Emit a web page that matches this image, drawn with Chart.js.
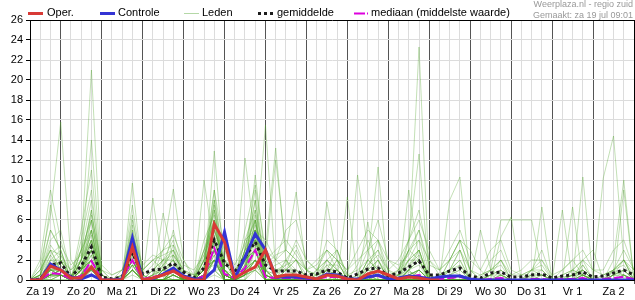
<!DOCTYPE html>
<html>
<head>
<meta charset="utf-8">
<script src="https://cdn.jsdelivr.net/npm/chart.js@4.4.1/dist/chart.umd.min.js"></script>
<style>
  html, body { margin: 0; padding: 0; background: #fff; }
  #wrap { width: 635px; height: 300px; }
</style>
</head>
<body>
<div id="wrap"><canvas id="chart" width="635" height="300"></canvas></div>
<script>
// neerslag per 6 uur (mm), stap 0 = za 19 jul 06:00, laatste stap = zo 3 aug 00:00
var dayLabels = ['Za 19', 'Zo 20', 'Ma 21', 'Di 22', 'Wo 23', 'Do 24', 'Vr 25', 'Za 26',
                 'Zo 27', 'Ma 28', 'Di 29', 'Wo 30', 'Do 31', 'Vr 1', 'Za 2'];

var oper = [0,0,1.4, 1.0,0.2,0.2,1.3, 0,0,0,3.3, 0,0.2,0.5,0.9, 0.3,0,0,5.6, 3.8,0.2,0.8,1.3,
            3.0,0.3,0.5,0.5, 0.3,0.1,0.5,0.4, 0.1,0,0.6,0.9, 0.5,0.1,0.3,0.2, 0,0];

var controle = [0,0,1.6, 1.0,0.3,0.1,0.5, 0,0,0.1,4.2, 0,0.1,0.6,1.2, 0.4,0.1,0.1,1.0, 4.8,0.2,2.3,4.6,
                3.0,0.3,0.3,0.3, 0.2,0.1,0.6,0.5, 0.1,0.1,0.3,0.5, 0.1,0.2,0.4,0.3, 0.1,0.3,0.4,0.4,
                0.1,0,0,0, 0,0,0,0, 0,0,0,0, 0,0,0,0, 0];

var gemiddelde = [0,0.1,1.5, 1.7,0.3,1.4,3.3, 0.3,0.1,0.3,2.7, 0.6,1.0,1.1,1.7, 0.8,0.2,1.2,4.0, 1.7,0.8,2.3,3.8,
                  1.5,0.9,0.9,0.9, 0.5,0.6,1.0,0.8, 0.2,0.6,1.1,1.2, 0.4,0.7,1.3,1.9, 0.5,0.5,0.9,1.2,
                  0.4,0.2,0.7,0.8, 0.3,0.3,0.5,0.6, 0.2,0.4,0.5,0.8, 0.3,0.4,0.7,1.0, 0.5];

var mediaan = [0,0,0.7, 0.6,0.1,0.4,1.9, 0.1,0,0.1,2.0, 0.1,0.3,0.5,0.9, 0.3,0,0.4,3.2, 0.6,0.2,1.2,3.0,
               0.3,0.2,0.2,0.2, 0.1,0.1,0.3,0.3, 0,0.1,0.3,0.4, 0.1,0.1,0.3,0.5, 0.1,0.1,0.2,0.3,
               0.1,0,0.1,0.2, 0,0,0.1,0.1, 0,0.1,0.1,0.2, 0,0.1,0.2,0.3, 0.1];

// ensembleleden
var leden = [
  [0,1.5,6.5, 15.8,2,0.5,1.5, 0,0,0.3,2, 0,0.5,1,0.8, 0.3,0,0.5,2.5, 0.8,0,1.5,3, 0.5,0.2,0,0, 0,0,0.5,0.3, 0,0,1,0.5, 0,0,0.8,0.5, 0,0,0.5,0.3, 0,0,0,0, 0,0,0.3,0, 0,0,0,1.5, 0,0,0.8,0.5, 0],
  [0,0,1, 2,1,3,21, 1,0,0,4, 0,0,1,2, 0,0,2,4, 1,0,3,6, 1,0,0.5,0, 0,0.5,1,0, 0,0,2,1, 0,0,1,3, 0,0.5,1,2, 0,0,0.5,0.5, 0,0,0,0.5, 0,0,0.5,1, 0,0,1,2, 0],
  [0,0.3,2, 3,0,2,14, 0.5,0,0,6, 1,2,1,0.5, 0,0,1.5,8, 2,0,4,5, 0,0,1,2, 0,0,0,0, 0,0,0.5,0, 0,0.5,2,4, 0,0,0,0.5, 0,0,1,1.5, 0,0,0,0, 0,0,0,0.5, 0,0,0.5,0.3, 0],
  [0,2,9, 4,0.5,1,5, 0,0,1,3, 0,0,2,1, 0.5,0,3,5, 2,1,2,4, 0.5,0,0,0.5, 0,1,2,0.5, 0,0,0.5,1, 0,1,3,2, 0.5,0,0,0.5, 0,0.5,1,2, 0,0,0,0, 0,0.3,0.5,0.5, 0,0,0.5,1, 0],
  [0,0.5,7.5, 2,0,3,8, 1,0,0.5,7.5, 0.5,0,0,1, 0,0,0.5,1, 1,0,5,9.5, 3,0.5,0,0, 0,0,0,0, 0,0,0,0.5, 0,0,0.5,1, 0,0,2,4, 1,0,0,0, 0,0,0,0, 0,0,0,0.5, 0,0,0,0.5, 0],
  [0,0,1.5, 2.5,0,5,11, 0,0,0,1, 0,0.5,3,9.1, 2,0,0,3, 0.5,0,1,2, 0,0,1,3, 1,0,0,0, 0,1.5,4,2, 0,0,0,1, 0,0,0,0, 0,0,0,0, 0,0,1,3, 0,0,0,0, 0,0,0,0.5, 0],
  [0,0,0.5, 1,0,1.5,4, 0,0,0,9.7, 0.5,0,0,1, 0,0,2,6, 0,0,3,4, 1,0,0,0, 0,0,0.5,0, 0,0,0,0, 0,0.5,1,1.5, 0,0,0,0, 0,0,0.5,0, 0,0,0,0, 0,0,0,0, 0,0,0,0, 0],
  [0,0,2.5, 1,0,2,6, 0,0,0.5,2, 0,8.2,1,0.5, 0,0,1,2, 0.5,0,2,3, 0,0,2,0.5, 0,0,0,0, 0,0,0,0, 0,0,0,0, 0,0,0,0.5, 0,0,0,0, 0,0,0,0, 0,0.5,1,0.5, 0,0,0,0, 0],
  [0,0,0.5, 1,0,0.5,3, 0,0,0,2, 0,0,6.7,2, 0,0,0.5,12.9, 1,0,1,2, 0.5,0,0,0, 0,0,1,0, 0,0,0,0.5, 0,0,0,0, 0,0,0,0, 0,0,0,0, 0,0,0,0, 0,0,0,0, 0,0,0,0, 0],
  [0,0,1, 0.5,0,1,2, 0,0,0,3, 0.5,0,0.5,1, 0,0,10,3, 0.5,0,2,4, 0.5,0,0,0, 0,0,0,0, 0,0,0,1, 0,0,0,0, 0,0,0,0, 0,0,0,0, 0,0,0,0, 0,1,2,0.5, 0,0,0,0, 0],
  [0,0,0.3, 0.5,0,0,1, 0,0,0,1.5, 0,0,0,0.5, 0,0,1,9, 3,0,12.2,4, 1,0,0,0.5, 0,0,0,0, 0,0,0,0, 0,0,0,0, 0,0,0,0, 0,0,0,0, 0,0,0,0, 0,0,0,0, 0,0,0,0, 0],
  [0,0,0, 0.5,0,0.5,2, 0,0,0,1, 0,0,0.5,0, 0,0,0.5,4, 2,0,1,10.5, 2,0.5,0,0, 0,0,2,1, 0,0,0,0, 0,0,0,0, 0,0,0,0, 0,0,0,0, 0,0,0,0, 0,0,0,0, 0,0,0,0, 0],
  [0,0,0, 0,0,1,3, 0,0,0,4, 0,0,1,1, 0,0,0,8, 0.5,0,0,3, 15.5,1,0,0, 0,0,0,0, 0,0,0,0, 0,0,0,0, 0,0,0,0, 0,0,0,0, 0,0,0,0, 0,0,0,0, 0,0,0,0, 0],
  [0,0,0.5, 1,0,0,1, 0,0,0,2, 0,0,0,0, 0,0,0.5,2, 0.5,0,1,5, 3,13.2,2,0, 0,0,0,0.5, 0,0,0,0, 0,0,1,0, 0,0,0,0, 0,0,0,0, 0,0,0,0, 0,0,0,0, 0,0,0,0, 0],
  [0,0,0, 0.5,0,0.5,1, 0,0,0,0.5, 0,0,0,0, 0,0,0,0.5, 0,0,0.5,1, 2,12,3,8.8, 1,0,0,0, 0,0,0,0, 0,0,0,0, 0,0,0,0, 0,0,0,0, 0,0,0,0, 0,0,0,0, 0,0,0,0, 0],
  [0,0.5,3, 1,0,2,5, 0,0,0,2, 0,1,0.5,1, 0,0,1,3, 0.5,0,2,3, 0.5,0,0,0, 0,0,7.8,2, 0,0.5,1,2, 0,0,0.5,1, 0,0,0,0, 0,0,0,0.5, 0,0,0,0, 0,0,0,0, 0,0,0,0, 0],
  [0,0,1, 0.5,0,1,4, 0,0,0,3, 0,0,0,0.5, 0,0,1,4, 1,0,0.5,2, 0.5,0,0,0, 0,0,0.5,0, 8.3,0,0,0, 0,0,0,0, 0,0,0,0, 0,0,0,0, 0,0,0,0, 0,0,0,0, 0,0,0,0, 0],
  [0,0,0.5, 2,0,1,3, 0,0,0,1.5, 0,0,0,0, 0,0,0,2, 0,0,1,5, 1,0,0.5,0, 0,0,0,0, 0,10.5,3,0, 0,0,0,1, 0,0,0,0, 0,0,0,0, 0,0,0,0, 0,0,0,0, 0,0,0,0, 0],
  [0,0,1, 1,0,0.5,2, 0,0,0,5, 0,0,0,1, 0,0,0.5,6, 0.5,0,2,7, 0,0,0,0, 0,0,0,0, 0,0,2,11.3, 0,0,0,0, 0,0,0,0, 0,0,0,0, 0,0,0,0, 0,0,0,0, 0,0,0,0, 0],
  [0,0,0.5, 0.5,0,1,2, 0,0,0,3, 0,0,0,0.5, 0,0,0.5,3, 0.5,0,1,6, 0,0,0,0, 0,0,0,0.5, 0,0,0.5,0, 0,0,3,23.3, 0,0,0,0, 0,0,0,0, 0,0,0,0, 0,0,0,0, 0,0,0,0, 0],
  [0,0,0.5, 1,0,1,5, 0,0,0,4, 0,0,0,0.5, 0,0,1,5, 1,0,2,4, 0.5,0,0,0, 0,0,1,0.5, 0,0,0,1, 0,0,4,12.6, 0,0,0,0, 0,0,0,0, 0,0,0,0, 0,0,0,0, 0,0,0,0, 0],
  [0,0,1, 0.5,0,0.5,3, 0,0,0,2, 0,0,1,2, 0,0,0.5,4, 0.5,0,1,3, 0,0,0,0, 0,0,0,0, 0,0,0,0, 0,0,9,2, 0,0,0,0, 0,0,0,0, 0,0,0,0, 0,0,0,0, 0,0,0,0, 0],
  [0,0,0.5, 1,0,1,3, 0,0,0,2, 0,0,0,0, 0,0,0.5,3, 0,0,1,4, 0,0,0,0, 0,0,0,0, 0,0,0,0, 0,0,0,0, 0,0,8,10.3, 0,0,0,0, 0,0,0,0, 0,0,0,0, 0,0,0,0, 0],
  [0,0,1.5, 1,0,1,4, 0,0,0,1, 0,0,0,0.5, 0,0,1,2, 0,0,0.5,2, 0,0,0,0, 0,0,0,0, 0,0,0,0, 0,0,0,0, 0,0,0,0, 0,5,1,6, 6,6,6,1, 0,0,0,0, 0,0,0,0, 0],
  [0,0,0.5, 0.5,0,1,2, 0,0,0,2, 0,0,0,1, 0,0,0,3, 0,0,1,3, 0,0,0,0, 0,0,0,0, 0,0,0,0, 0,0,0,0, 0,0,0,0, 0,0,0,0, 0,0,0,7.3, 0,0,0,0, 0,0,0,0, 0],
  [0,0,0.5, 0.5,0,0.5,2, 0,0,0,3, 0,0,0.5,0, 0,0,0.5,2, 0,0,0.5,2, 0,0,0,0, 0,0,0,0, 0,0,0,0, 0,0,0,0, 0,0,0,0, 0,0,0,0, 0,0,0,0, 0,7,0,10.3, 0,0,0,0, 0],
  [0,0,0.5, 1,0,0.5,2, 0,0,0,1, 0,0,0,0, 0,0,0.5,2, 0,0,0.5,2, 0,0,0,0, 0,0,0,0, 0,0,0,0, 0,0,0,0, 0,0,0,0, 0,0,0,0, 0,0,0,0, 0,0,0,0, 0,10.2,14.4,2, 0],
  [0,0,0.3, 0.5,0,0.5,1, 0,0,0,1, 0,0,0,0, 0,0,0,1, 0,0,0.5,1, 0,0,0,0, 0,0,0,0, 0,0,0,0, 0,0,0,0, 0,0,0,0, 0,0,0,0, 0,0,0,0, 0,0,0,2, 3,0,2,10, 0],
  [0,0,0, 0.5,0,0,1, 0,0,0,1, 0,0,0,0, 0,0,0,1, 0,0,0.5,1, 0,0,0,0, 0,0,0,0, 0,0,0,0, 0,0,0,0, 0,0,0,0, 0,0,0,4.3, 6.3,0,0,0, 0,0,7.3,0, 0,0,0,0, 0],
  [0,0,0, 0,0,0.5,1, 0,0,0,1, 0,0,0,0, 0,0,0,1, 0,0,0,1, 0,0,0,0, 0,0,0,0, 0,0,5.8,0, 0,0,0,0, 0,0,0,0, 0,0,0,0, 0,0,0,0, 0,0,0,0, 0,0,0,9, 0],
  [0,0.5,4, 5,0.5,2,7, 0.5,0,0,5, 0,1,2,4, 0.5,0,3,7, 1,0,3,8, 1,0.5,2,1, 0,0.5,2,1, 0,0,1.5,3, 0,0.5,2,3, 0,0,1,2, 0,0,0.5,1, 0,0,0.5,0.5, 0,0,1,2, 0,0.5,1,1.5, 0],
  [0,1,5, 3,0,4,9, 0,0,0.5,4, 0.5,0,1.5,3, 0,0,2,9, 0.5,0,4,7, 2,1,1,0.5, 0,1,3,2, 0,0,2,1, 0,1,3,5, 0.5,0,1,3, 0,0,0,0.5, 0,0,0,0, 0,0,0.5,1, 0,0,1,0.5, 0],
  [0,0.5,3.5, 2,0,3,6, 0,0,0,5.5, 0,0.5,2,3, 0.5,0,2.5,6, 1,0,2.5,6.5, 0.5,0,1,2, 0,0,1,3, 0,0,0.5,2, 0,0,1,2, 0,0.5,1,3, 0,0,0,1, 0,0,1,0.5, 0,0,0,1, 0,0,0.5,2, 0],
  [0,0,2, 1.5,0,2,7, 0,0,0,3.5, 0,0,1,5, 1,0,1,7, 0.5,0,3,9, 1,0,0.5,0.5, 0,0,0.5,1, 0,0,1,4, 0,0,2,2, 0,0,0,0, 0,0,0.5,1, 0,0,0,0, 0,0,0,0.5, 0,0,0,0.5, 0],
  [0,0.5,5, 3,0,1,4, 0,0,0,6.5, 0,0,1,3.5, 0,0,1.5,5, 2,0,2,5, 0.5,0,0,0.5, 0,0,1,0, 0,0,0,0.5, 0,0,1,2, 0,0,0.5,1.5, 0,0,0,0, 0,0,0,0, 0,0,0,1, 0,0,0.5,1, 0],
  [0,1,3, 1,0,3,5, 0,0,0,2.5, 0,0.5,1,2, 0,0,4,6.5, 0.5,0,1.5,8, 0.5,0,0,1, 0,0,0.5,2, 0,0,0,0, 0,0,1.5,3, 0,0,1,0.5, 0,0,0,0, 0,0,0,0, 0,0,0,0, 0,0,0,0.5, 0],
  [0,0,1, 2,0,2,4.5, 0,0,0,3, 0,0,0,2.5, 0,0,1,5.5, 1,0,1,4.5, 0.5,1,1,0.5, 0,0,1.5,0.5, 0,0,0,1, 0,0,0.5,1, 0,0,0,0.5, 0,0,0.5,2, 0,0,0,0, 0,0,0,0, 0,0,0,0, 0],
  [0,0,2, 2,0,1,6, 0.5,0,0,3, 0,0,0.5,1, 0,0,2,7.5, 0,0,3,5, 0,0,0,0, 0,0,0.5,1, 0,0,0.5,0, 0,0,0,0, 0,0,0,0, 0,0,0,0, 0,0.5,0.5,0, 0,0,0,0, 0,0,0,1, 0],
  [0,0.5,1.5, 1,0,1,3.5, 0,0,0,2, 0,0,1,1.5, 0,0,1,4.5, 0,0,1,6, 0,0,0,0, 0,0,0,0, 0,0,1,0.5, 0,0,0.5,1, 0,0,0,0, 0,0,0,0, 0,0,0,0.5, 0,0,0,0, 0,0,0,0, 0],
  [0,0,1, 1,0,0.5,2.5, 0,0,0,2, 0,0,0,1, 0,0,0.5,4, 0.5,0,0.5,3, 0,0,0,0, 0,0,0,0, 0,0,0,0, 0,0,1,0, 0,0,0,0, 0,0,0,0, 0,0,0,0, 0,0,1,0.5, 0,0,0,0, 0],
  [0,0,0.5, 0.5,0,1,3, 0,0,0,2.5, 0,0,0.5,1, 0,0,0,3.5, 0,0,0.5,3.5, 0,0,0,0, 0,0,0,0, 0,0,0,0, 0,0,0,0, 0,0,0,0, 0,0,0,0, 0,0,0,0, 0,0,0,0, 0,0,0,0, 0],
  [0,0,1, 1,0,0.5,1.5, 0,0,0,1.5, 0,0,0,0.5, 0,0,0.5,2.5, 0,0,0.5,2, 0,0,0,0, 0,0,0,0, 0,0,0,0, 0,0,0,0, 0,0,0,0, 0,0,0,0, 0,0,0,0, 0,0,0,0, 0,0,0,0, 0],
  [0,0,0.5, 1,0.5,1,2, 0.5,0,0.5,1.5, 1,2,2.5,3, 1,0.5,1,2, 1.5,1,2,3, 2,3,4,2.5, 1,1.5,3,2, 1,2,3,4, 2,1.5,2.5,5, 1.5,1,2,3, 1,0.5,1,2, 0.5,0.5,1,1, 0,0.5,1,2, 1,0.5,1,2, 1],
  [0,0,1, 0.5,0,1,2, 0,0,0,2, 0.5,1.5,3,4.5, 2,0.5,1,3, 1,0.5,2,4, 3,2,5,6, 2,1,2,3, 0.5,1,2,3, 1,2,4,6, 3,1,2,4, 1,0,2,3, 0.5,1,2,2, 0.5,1,2,3, 1,1,3,4, 1],
  [0,0,0.5, 0.5,0,0.5,1.5, 0,0,0,1, 0,1,2,2, 0.5,0,1,1.5, 0.5,0,1,2, 1,1.5,2,3.5, 1,0.5,4,3, 0.5,0,1.5,2.5, 1,0.5,3,4, 2,0.5,1,1.5, 0,0,1,0.5, 0,0,0.5,1, 0,0,0.5,1.5, 0,0.5,1,2, 0.5],
  [0,0,1, 1,0,1,2.5, 0,0,0,3, 0,0.5,1.5,2.5, 1,0,2,4, 0.5,0,1.5,5, 4,2,1,1, 0.5,0,0.5,2, 1,3,5,4, 1,0,1,2, 0,0,0.5,1, 0,0,0,0, 0,0,0,0, 0,0,0,0, 0,0,0,0, 0],
  [0,0,0, 0,0,0.5,1, 0,0,0,1, 0,0,0,0.5, 0,0,0,2, 0,0,0,1.5, 1,2,3,2, 1,2,3,1, 0,0.5,3,6, 2,1,4,7, 2,1,3,5, 2,1,3,4, 1,0.5,1,1.5, 0,0,0.5,1, 0,0,1,3, 1],
  [0,0,0.5, 0.5,0,0.5,1, 0,0,0,1.5, 0,0,0,1, 0,0,0.5,2, 0,0,0.5,1.5, 0,0.5,1.5,4, 2,1,1,0.5, 0,0,0.5,1.5, 0.5,1,2,3, 0,0,2,4, 3,1,0,0, 0,0,1,2, 0,0,0,0, 0,0,0,0, 0],
  [0,1,3, 2.5,1,2,4, 1,0.5,1,3.5, 1,2,3,3.5, 1.5,1,2.5,5, 2,1,2.5,5.5, 2,1,1.5,2, 0.5,0.5,1,1, 0,0,0.5,1, 0,0,0.5,1, 0,0,0,0.5, 0,0,0,0, 0,0,0.5,0.5, 0,0,0,0.5, 0,0,0.5,1, 0],
  [0,0.5,2.5, 3.5,1.5,2.5,6.5, 1.5,0.5,1,4.5, 1.5,2.5,2,2.5, 1,0.5,3,6, 3,1.5,3.5,6, 1.5,2.5,3,2, 1,0.5,1.5,1.5, 0.5,0,1,2, 0.5,0.5,1.5,2.5, 0.5,0,0.5,1, 0,0,0,0.5, 0,0,0,0, 0,0,0,0.5, 0,0,0.5,0.5, 0]
];

var yTicks = [0, 2, 4, 6, 8, 10, 12, 14, 16, 18, 20, 22, 24, 26];

function toPoints(arr) {
  return arr.map(function (v, i) { return { x: i, y: v }; });
}

var datasets = [
  { label: 'Oper.', data: toPoints(oper), borderColor: '#d83a36', borderWidth: 3 },
  { label: 'Controle', data: toPoints(controle), borderColor: '#3434d4', borderWidth: 3 },
  { label: 'gemiddelde', data: toPoints(gemiddelde), borderColor: '#1c1c1c', borderWidth: 3, borderDash: [3, 3] },
  { label: 'mediaan', data: toPoints(mediaan), borderColor: '#dd00dd', borderWidth: 2, borderDash: [9, 3] }
];
leden.forEach(function (m) {
  datasets.push({ label: 'Leden', data: toPoints(m), borderColor: 'rgba(78,165,40,0.34)', borderWidth: 1 });
});

// legenda en kopteksten
var kop = {
  id: 'kop',
  afterDraw: function (chart) {
    var c = chart.ctx;
    c.save();
    var items = [
      { x: 28, tx: 47, t: 'Oper.', col: '#d83a36', w: 3, dash: [] },
      { x: 100, tx: 118, t: 'Controle', col: '#3434d4', w: 3, dash: [] },
      { x: 184, tx: 202, t: 'Leden', col: '#b4d8a6', w: 1, dash: [] },
      { x: 258, tx: 277, t: 'gemiddelde', col: '#1c1c1c', w: 3, dash: [3, 3] },
      { x: 354, tx: 371, t: 'mediaan (middelste waarde)', col: '#dd00dd', w: 2, dash: [11, 2, 1, 2] }
    ];
    c.font = '11px "Liberation Sans", Arial, sans-serif';
    c.textBaseline = 'middle';
    items.forEach(function (it) {
      c.beginPath();
      c.setLineDash(it.dash);
      c.strokeStyle = it.col;
      c.lineWidth = it.w;
      c.moveTo(it.x, 13.5);
      c.lineTo(it.x + 15, 13.5);
      c.stroke();
      c.setLineDash([]);
      c.fillStyle = '#000';
      c.fillText(it.t, it.tx, 13);
    });
    c.font = '9px "Liberation Sans", Arial, sans-serif';
    c.fillStyle = '#999';
    c.textAlign = 'right';
    c.textBaseline = 'alphabetic';
    c.fillText('Weerplaza.nl - regio zuid', 633, 7);
    c.fillText('Gemaakt: za 19 jul 09:01', 633, 17.5);
    c.restore();
  }
};

new Chart(document.getElementById('chart').getContext('2d'), {
  type: 'line',
  data: { datasets: datasets },
  options: {
    responsive: false,
    animation: false,
    devicePixelRatio: 1,
    layout: { padding: { top: 20, right: 1, left: 0, bottom: 0 } },
    elements: {
      point: { radius: 0 },
      line: { tension: 0, fill: false, borderCapStyle: 'butt' }
    },
    plugins: { legend: { display: false }, tooltip: { enabled: false } },
    scales: {
      x: {
        type: 'linear',
        min: 0,
        max: 59,
        afterFit: function (s) { s.height = 20; },
        ticks: {
          stepSize: 1,
          autoSkip: false,
          maxRotation: 0,
          padding: 1,
          color: '#000',
          font: { family: '"Liberation Sans", Arial, sans-serif', size: 11 },
          callback: function (v) { return v % 4 === 1 ? dayLabels[(v - 1) / 4] : ''; }
        },
        grid: {
          color: function (ctx) {
            var v = ctx.tick ? ctx.tick.value : 0;
            if (v === 59) return '#000';
            return v % 4 === 3 ? '#555' : '#dcdcdc';
          },
          tickColor: function (ctx) {
            var v = ctx.tick ? ctx.tick.value : 0;
            return v % 4 === 3 ? '#555' : 'rgba(0,0,0,0)';
          },
          tickLength: 4,
          lineWidth: 1
        },
        border: { color: '#000', width: 1 }
      },
      y: {
        min: 0,
        max: 26,
        afterFit: function (s) { s.width = 30; },
        afterBuildTicks: function (s) { s.ticks = yTicks.map(function (v) { return { value: v }; }); },
        ticks: {
          padding: 3,
          color: '#000',
          font: { family: '"Liberation Sans", Arial, sans-serif', size: 11 }
        },
        grid: {
          color: function (ctx) { return ctx.tick && ctx.tick.value === 26 ? '#000' : '#dcdcdc'; },
          tickColor: '#000',
          tickLength: 4,
          lineWidth: 1
        },
        border: { color: '#000', width: 1 }
      }
    }
  },
  plugins: [kop]
});
</script>
</body>
</html>
